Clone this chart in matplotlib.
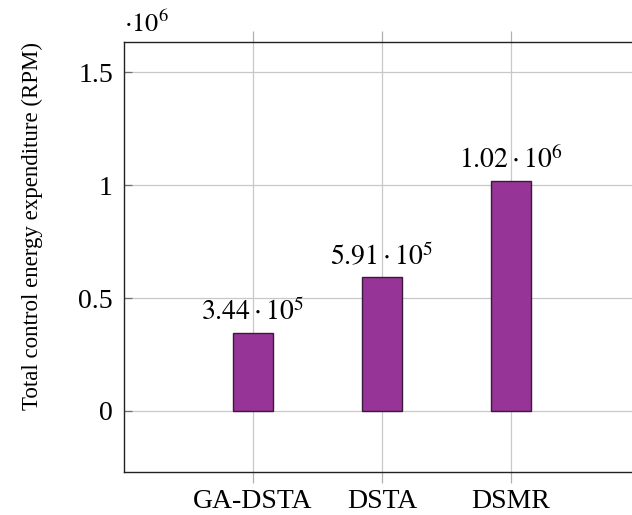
import matplotlib
matplotlib.use("Agg")
import matplotlib.pyplot as plt

categories = ["GA-DSTA", "DSTA", "DSMR"]
values = [3.44e5, 5.91e5, 1.02e6]
value_labels = [r"$3.44\cdot10^{5}$", r"$5.91\cdot10^{5}$", r"$1.02\cdot10^{6}$"]
yticks = [0, 0.5e6, 1.0e6, 1.5e6]
ytick_labels = ["0", "0.5", "1", "1.5"]

plt.rcParams['font.family'] = ['Liberation Serif', 'DejaVu Serif']
plt.rcParams['mathtext.fontset'] = 'stix'

W, H = 632, 515
fig = plt.figure(figsize=(W/100, H/100), dpi=100)
left, right, top, bottom = 124, 640, 42, 472
ax = fig.add_axes([left/W, 1-bottom/H, (right-left)/W, (bottom-top)/H])

x = list(range(len(categories)))
ax.bar(x, values, width=0.31, color="#973497", edgecolor="#3a1a3a", linewidth=1.0, zorder=3)
for xi, v, lab in zip(x, values, value_labels):
    ax.annotate(lab, (xi, v), xytext=(0, 5), textcoords="offset points",
                ha="center", va="bottom", fontsize=20, zorder=4)

ax.set_xlim(-1, 3)
ax.set_ylim(-0.27e6, 1.633e6)
ax.set_xticks(x)
ax.set_xticklabels(categories, fontsize=20)
ax.set_yticks(yticks)
ax.set_yticklabels(ytick_labels, fontsize=20)
ax.grid(True, color="#c8c8c8", linewidth=0.9, zorder=0)
ax.tick_params(axis='x', direction='out', length=8, color="#b0b0b0", width=0.9,
               top=True, labeltop=False, pad=4.5)
ax.tick_params(axis='y', direction='in', length=6, color="#707070", width=0.9,
               right=True, pad=8)
for s in ax.spines.values():
    s.set_linewidth(1.0)
    s.set_color("#222222")

ax.set_ylabel("Total control energy expenditure (RPM)", fontsize=16.5)
ax.yaxis.set_label_coords(-0.157, 0.572)
ax.text(0.0, 1.012, r"$\cdot10^{6}$", transform=ax.transAxes, fontsize=19,
        ha="left", va="bottom")

fig.savefig("out.png", dpi=100)
